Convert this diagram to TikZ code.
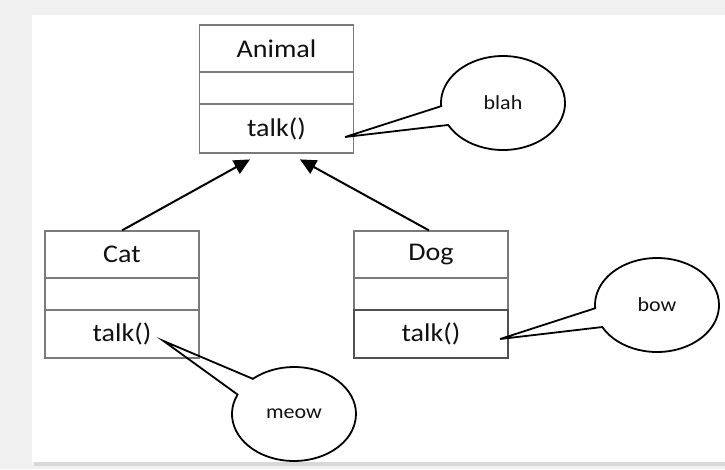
\documentclass[tikz,border=0pt]{standalone}
\usepackage{fontspec}
\setmainfont[FakeStretch=1.1]{Carlito}
\usetikzlibrary{shapes.callouts,arrows.meta}
\definecolor{bggray}{HTML}{F0F0F0}
\definecolor{shadowgray}{HTML}{D9D9D9}
\definecolor{boxgray}{HTML}{7A7A7A}
\definecolor{selgray}{HTML}{505050}
\definecolor{txt}{HTML}{111111}
\begin{document}
\begin{tikzpicture}[x=1pt,y=-1pt,
  comp/.style={draw=boxgray, line width=1.2pt, minimum width=154pt, inner sep=0pt,
    font=\fontsize{25.5}{28}\selectfont, text=txt},
  namebox/.style={comp, minimum height=47pt},
  attrbox/.style={comp, minimum height=32pt},
  methbox/.style={comp, minimum height=48pt},
  inh/.style={line width=2pt, -{Triangle[length=16pt,width=15pt]}, shorten >=12pt},
  bubble/.style={ellipse callout, draw=black, line width=1.8pt, inner sep=0pt,
    minimum width=124pt, minimum height=94pt, callout pointer arc=24,
    font=\fontsize{20}{24}\selectfont, text=txt}
]
\useasboundingbox (0,0) rectangle (725,469);
\fill[bggray] (0,0) rectangle (725,469);
\fill[shadowgray] (34,460) rectangle (725,466);
\fill[white] (32,15) rectangle (725,462);

% Animal
\node[namebox] (animalname) at (276.5,48.5) {Animal};
\node[attrbox] (animalattr) at (276.5,88) {};
\node[methbox, minimum height=49pt] (animalmeth) at (276.5,128.5) {talk()};
% Cat
\node[namebox] (catname) at (122,254.5) {Cat};
\node[attrbox] (catattr) at (122,294) {};
\node[methbox] (catmeth) at (122,334) {talk()};
% Dog
\node[namebox] (dogname) at (431,254.5) {Dog};
\node[attrbox] (dogattr) at (431,294) {};
\node[methbox, draw=selgray, line width=2.2pt] (dogmeth) at (431,334) {talk()};

% inheritance arrows
\draw[inh] (catname.north) -- ([xshift=-16pt]animalmeth.south);
\draw[inh] ([xshift=-2pt]dogname.north) -- ([xshift=13pt]animalmeth.south);

% callouts
\coordinate (blahtip) at ([shift={(-9,8.5)}]animalmeth.east);
\coordinate (meowtip) at ([shift={(-36,7)}]catmeth.east);
\coordinate (bowtip) at ([shift={(-9,5)}]dogmeth.east);
\node[bubble, callout absolute pointer={(blahtip)}] (blah) at (503,103) {blah};
\node[bubble, callout absolute pointer={(meowtip)}] (meow) at (294,414) {meow};
\node[bubble, callout absolute pointer={(bowtip)}] (bow) at (657,305) {bow};
\end{tikzpicture}
\end{document}
